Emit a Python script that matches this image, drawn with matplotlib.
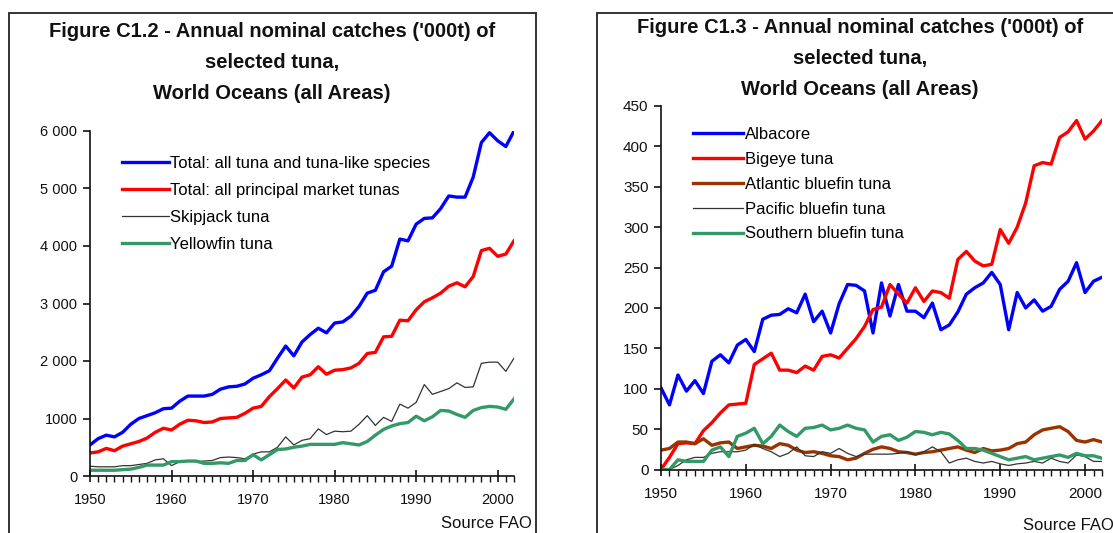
import matplotlib
matplotlib.use("Agg")
import matplotlib.pyplot as plt
from matplotlib.patches import Rectangle
from matplotlib.ticker import MultipleLocator

plt.rcParams['font.family'] = ['Liberation Sans', 'DejaVu Sans']

years = list(range(1950, 2003))

# ---- Figure C1.2 data ('000 t)
total_all = [540, 650, 710, 680, 760, 900, 1000, 1050, 1100, 1170,
             1180, 1300, 1390, 1390, 1390, 1420, 1510, 1550, 1560, 1600,
             1700, 1760, 1830, 2050, 2260, 2090, 2330, 2460, 2570, 2490,
             2660, 2680, 2780, 2950, 3180, 3230, 3550, 3650, 4120, 4090,
             4380, 4480, 4490, 4650, 4870, 4850, 4850, 5200, 5800, 5970,
             5830, 5730, 6000]
total_market = [400, 420, 480, 440, 520, 560, 600, 660, 760, 830,
                800, 900, 970, 960, 930, 940, 1000, 1010, 1020, 1090,
                1180, 1210, 1380, 1520, 1670, 1530, 1720, 1760, 1900, 1770,
                1840, 1850, 1880, 1960, 2130, 2150, 2420, 2430, 2710, 2700,
                2890, 3030, 3100, 3180, 3300, 3360, 3290, 3470, 3920, 3960,
                3820, 3860, 4090]
skipjack = [170, 160, 160, 160, 180, 180, 200, 220, 280, 300,
            180, 250, 260, 250, 260, 270, 320, 330, 320, 300,
            380, 420, 420, 500, 680, 540, 620, 650, 820, 720,
            780, 770, 780, 900, 1050, 880, 1020, 950, 1250, 1180,
            1280, 1590, 1420, 1470, 1520, 1620, 1540, 1550, 1960, 1980,
            1980, 1820, 2050]
yellowfin = [100, 100, 100, 100, 110, 120, 150, 190, 190, 190,
             250, 250, 260, 260, 220, 220, 230, 220, 270, 270,
             370, 280, 370, 460, 470, 500, 520, 550, 550, 550,
             550, 580, 560, 540, 600, 710, 810, 870, 910, 930,
             1040, 960, 1030, 1140, 1130, 1070, 1020, 1140, 1190, 1210,
             1200, 1160, 1340]
left_labels = ["Total: all tuna and tuna-like species",
               "Total: all principal market tunas",
               "Skipjack tuna", "Yellowfin tuna"]
left_yticks = [0, 1000, 2000, 3000, 4000, 5000, 6000]
left_yticklabels = ["0", "1000", "2 000", "3 000", "4 000", "5 000", "6 000"]

# ---- Figure C1.3 data ('000 t)
albacore = [101, 80, 117, 97, 110, 94, 134, 142, 132, 154,
            161, 146, 186, 191, 192, 199, 194, 217, 183, 196,
            169, 205, 229, 228, 221, 169, 231, 190, 229, 196,
            196, 188, 206, 173, 179, 195, 217, 225, 231, 244,
            229, 173, 219, 200, 210, 196, 202, 223, 233, 256,
            219, 233, 238]
bigeye = [0, 15, 32, 33, 32, 48, 58, 70, 80, 81,
          82, 130, 137, 144, 123, 123, 120, 128, 123, 140,
          142, 138, 150, 162, 177, 198, 201, 229, 217, 206,
          225, 208, 221, 219, 212, 260, 270, 258, 252, 254,
          297, 280, 300, 330, 376, 380, 378, 411, 418, 432,
          409, 419, 432]
atlantic_bf = [24, 26, 34, 34, 32, 38, 30, 33, 34, 26,
               28, 30, 29, 26, 32, 30, 24, 21, 22, 20,
               17, 16, 12, 14, 20, 25, 28, 26, 22, 21,
               19, 21, 22, 24, 26, 28, 24, 21, 26, 23,
               24, 26, 32, 34, 43, 49, 51, 53, 47, 36,
               34, 37, 34]
pacific_bf = [0, 0, 5, 12, 15, 15, 20, 22, 22, 22,
              24, 31, 26, 22, 16, 20, 28, 17, 16, 22,
              20, 26, 20, 16, 19, 19, 19, 19, 20, 22,
              18, 22, 28, 22, 8, 12, 14, 10, 8, 10,
              7, 5, 7, 8, 10, 8, 14, 10, 8, 18,
              16, 10, 10]
southern_bf = [0, 0, 12, 10, 10, 10, 24, 28, 16, 41,
               45, 51, 32, 41, 55, 47, 41, 51, 52, 55,
               49, 51, 55, 51, 49, 34, 41, 43, 36, 40,
               47, 46, 43, 46, 44, 36, 26, 26, 24, 20,
               16, 12, 14, 16, 12, 14, 16, 18, 15, 20,
               17, 17, 14]
right_labels = ["Albacore", "Bigeye tuna", "Atlantic bluefin tuna",
                "Pacific bluefin tuna", "Southern bluefin tuna"]
right_yticks = [0, 50, 100, 150, 200, 250, 300, 350, 400, 450]

title_left = "Figure C1.2 - Annual nominal catches ('000t) of\nselected tuna,\nWorld Oceans (all Areas)"
title_right = "Figure C1.3 - Annual nominal catches ('000t) of\nselected tuna,\nWorld Oceans (all Areas)"
source_text = "Source FAO"

BLUE = "#0000ff"
RED = "#ff0000"
GREEN = "#339966"
BROWN = "#993300"
BLACK = "#333333"

W, H = 1113, 533
fig = plt.figure(figsize=(W / 100, H / 100), dpi=100)
fig.patch.set_facecolor("white")


def fx(px):
    return px / W


def fy(py):
    return 1 - py / H


# panel boxes
fig.patches.append(Rectangle((fx(9), fy(560)), fx(536 - 9), (560 - 13) / H,
                             transform=fig.transFigure, fill=False,
                             edgecolor="#222222", linewidth=1.3))
fig.patches.append(Rectangle((fx(597), fy(560)), fx(1200 - 597), (560 - 13) / H,
                             transform=fig.transFigure, fill=False,
                             edgecolor="#222222", linewidth=1.3))


def style_axes(ax, labelsize, xpad):
    for s in ["top", "right"]:
        ax.spines[s].set_visible(False)
    for s in ["left", "bottom"]:
        ax.spines[s].set_linewidth(1.2)
        ax.spines[s].set_color("#111111")
    ax.xaxis.set_minor_locator(MultipleLocator(1))
    ax.set_xticks([1950, 1960, 1970, 1980, 1990, 2000])
    ax.tick_params(axis="x", which="major", direction="inout", length=9,
                   width=1.2, labelsize=labelsize, pad=xpad, colors="#111111")
    ax.tick_params(axis="x", which="minor", direction="out", length=4, width=1.0,
                   colors="#111111")
    ax.tick_params(axis="y", which="major", direction="out", length=5, width=1.2,
                   labelsize=labelsize, pad=4, colors="#111111")
    ax.set_facecolor("none")


# ---- left axes
axL = fig.add_axes([fx(90), fy(476), fx(514 - 90), (476 - 131) / H])
axL.plot(years, total_all, color=BLUE, lw=2.4, label=left_labels[0], solid_joinstyle="round")
axL.plot(years, total_market, color=RED, lw=2.4, label=left_labels[1], solid_joinstyle="round")
axL.plot(years, skipjack, color=BLACK, lw=0.9, label=left_labels[2], solid_joinstyle="round")
axL.plot(years, yellowfin, color=GREEN, lw=2.4, label=left_labels[3], solid_joinstyle="round")
axL.set_xlim(1950, 2002)
axL.set_ylim(0, 6000)
axL.set_yticks(left_yticks)
axL.set_yticklabels(left_yticklabels)
style_axes(axL, 10.5, 8)
legL = axL.legend(loc="upper left", bbox_to_anchor=(fx(122), fy(156)),
                  bbox_transform=fig.transFigure, frameon=False, fontsize=12,
                  handlelength=2.8, handletextpad=0.1, labelspacing=0.72,
                  borderpad=0, borderaxespad=0)

fig.text(fx(272), fy(22), title_left, ha="center", va="top", fontsize=14.5,
         fontweight="bold", linespacing=1.8, color="#111111")
fig.text(fx(532), fy(531), source_text, ha="right", va="bottom", fontsize=12,
         color="#111111")

# ---- right axes
axR = fig.add_axes([fx(661), fy(469.5), fx(1102 - 661), (469.5 - 106) / H])
axR.plot(years, albacore, color=BLUE, lw=2.4, label=right_labels[0], solid_joinstyle="round")
axR.plot(years, bigeye, color=RED, lw=2.4, label=right_labels[1], solid_joinstyle="round")
axR.plot(years, atlantic_bf, color=BROWN, lw=2.4, label=right_labels[2], solid_joinstyle="round")
axR.plot(years, pacific_bf, color=BLACK, lw=0.9, label=right_labels[3], solid_joinstyle="round")
axR.plot(years, southern_bf, color=GREEN, lw=2.4, label=right_labels[4], solid_joinstyle="round")
axR.set_xlim(1950, 2002)
axR.set_ylim(0, 450)
axR.set_yticks(right_yticks)
style_axes(axR, 11, 8)
legR = axR.legend(loc="upper left", bbox_to_anchor=(fx(693), fy(127)),
                  bbox_transform=fig.transFigure, frameon=False, fontsize=12,
                  handlelength=3.0, handletextpad=0.1, labelspacing=0.59,
                  borderpad=0, borderaxespad=0)

fig.text(fx(860), fy(18), title_right, ha="center", va="top", fontsize=14.5,
         fontweight="bold", linespacing=1.8, color="#111111")
fig.text(fx(1023), fy(533), source_text, ha="left", va="bottom", fontsize=12,
         color="#111111")

fig.savefig("out.png", dpi=100)
